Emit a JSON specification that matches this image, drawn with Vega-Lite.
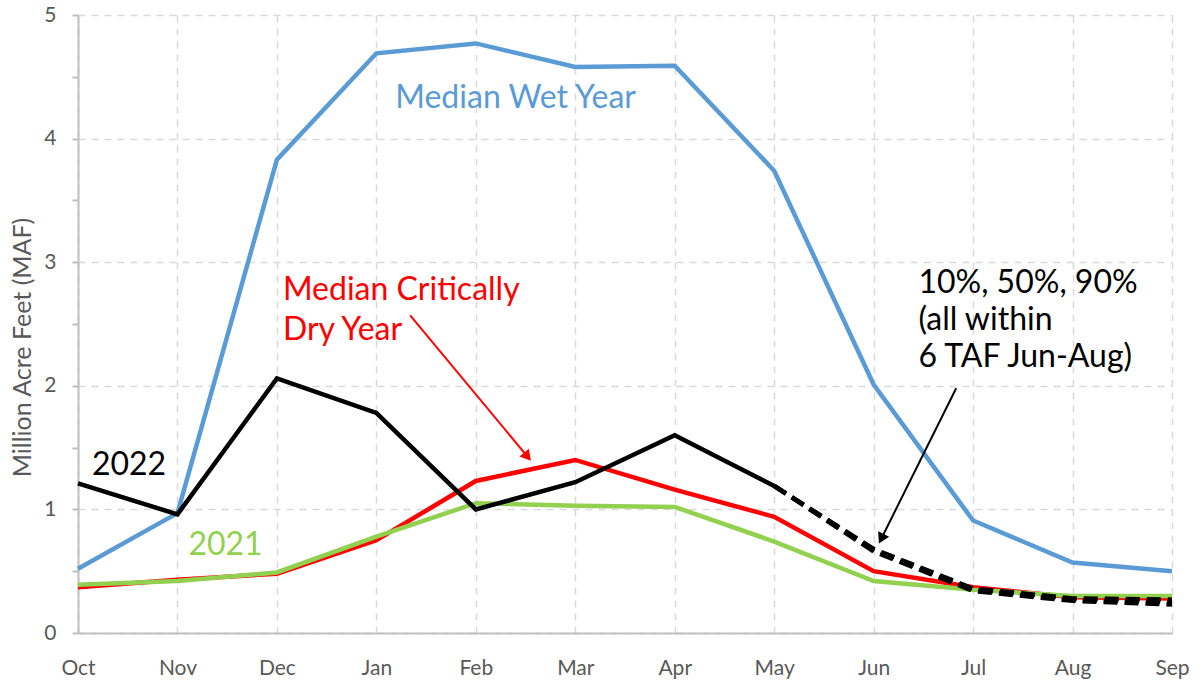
{
  "$schema": "https://vega.github.io/schema/vega-lite/v6.json",
  "width": 1094,
  "height": 618,
  "autosize": {"type": "none"},
  "padding": {"left": 78, "top": 15, "right": 29, "bottom": 54},
  "config": {"view": {"stroke": null}, "font": "Lato"},
  "datasets": {
    "flows": [
      {"m": 0, "v": 0.52, "s": "Wet"}, {"m": 1, "v": 0.97, "s": "Wet"}, {"m": 2, "v": 3.83, "s": "Wet"}, {"m": 3, "v": 4.69, "s": "Wet"},
      {"m": 4, "v": 4.77, "s": "Wet"}, {"m": 5, "v": 4.58, "s": "Wet"}, {"m": 6, "v": 4.59, "s": "Wet"}, {"m": 7, "v": 3.74, "s": "Wet"},
      {"m": 8, "v": 2.01, "s": "Wet"}, {"m": 9, "v": 0.91, "s": "Wet"}, {"m": 10, "v": 0.57, "s": "Wet"}, {"m": 11, "v": 0.50, "s": "Wet"},
      {"m": 0, "v": 0.37, "s": "Dry"}, {"m": 1, "v": 0.43, "s": "Dry"}, {"m": 2, "v": 0.48, "s": "Dry"}, {"m": 3, "v": 0.75, "s": "Dry"},
      {"m": 4, "v": 1.23, "s": "Dry"}, {"m": 5, "v": 1.40, "s": "Dry"}, {"m": 6, "v": 1.16, "s": "Dry"}, {"m": 7, "v": 0.94, "s": "Dry"},
      {"m": 8, "v": 0.50, "s": "Dry"}, {"m": 9, "v": 0.37, "s": "Dry"}, {"m": 10, "v": 0.29, "s": "Dry"}, {"m": 11, "v": 0.28, "s": "Dry"},
      {"m": 0, "v": 0.39, "s": "2021"}, {"m": 1, "v": 0.42, "s": "2021"}, {"m": 2, "v": 0.49, "s": "2021"}, {"m": 3, "v": 0.78, "s": "2021"},
      {"m": 4, "v": 1.05, "s": "2021"}, {"m": 5, "v": 1.03, "s": "2021"}, {"m": 6, "v": 1.02, "s": "2021"}, {"m": 7, "v": 0.74, "s": "2021"},
      {"m": 8, "v": 0.42, "s": "2021"}, {"m": 9, "v": 0.35, "s": "2021"}, {"m": 10, "v": 0.30, "s": "2021"}, {"m": 11, "v": 0.30, "s": "2021"},
      {"m": 0, "v": 1.21, "s": "2022"}, {"m": 1, "v": 0.96, "s": "2022"}, {"m": 2, "v": 2.06, "s": "2022"}, {"m": 3, "v": 1.78, "s": "2022"},
      {"m": 4, "v": 1.00, "s": "2022"}, {"m": 5, "v": 1.22, "s": "2022"}, {"m": 6, "v": 1.60, "s": "2022"}, {"m": 7, "v": 1.19, "s": "2022"},
      {"m": 7, "v": 1.19, "s": "P10"}, {"m": 8, "v": 0.68, "s": "P10"}, {"m": 9, "v": 0.36, "s": "P10"}, {"m": 10, "v": 0.28, "s": "P10"}, {"m": 11, "v": 0.27, "s": "P10"},
      {"m": 7, "v": 1.19, "s": "P50"}, {"m": 8, "v": 0.67, "s": "P50"}, {"m": 9, "v": 0.35, "s": "P50"}, {"m": 10, "v": 0.27, "s": "P50"}, {"m": 11, "v": 0.25, "s": "P50"},
      {"m": 7, "v": 1.19, "s": "P90"}, {"m": 8, "v": 0.66, "s": "P90"}, {"m": 9, "v": 0.34, "s": "P90"}, {"m": 10, "v": 0.26, "s": "P90"}, {"m": 11, "v": 0.23, "s": "P90"}
    ],
    "labels": [
      {"m": 3.19, "v": 4.33, "t": "Median Wet Year", "s": "Wet"},
      {"m": 0.14, "v": 1.36, "t": "2022", "s": "2022"},
      {"m": 1.11, "v": 0.71, "t": "2021", "s": "2021"},
      {"m": 2.06, "v": 2.775, "t": "Median Critically", "s": "Dry"},
      {"m": 2.06, "v": 2.45, "t": "Dry Year", "s": "Dry"},
      {"m": 8.45, "v": 2.83, "t": "10%, 50%, 90%", "s": "2022"},
      {"m": 8.45, "v": 2.53, "t": "(all within", "s": "2022"},
      {"m": 8.45, "v": 2.23, "t": "6 TAF Jun-Aug)", "s": "2022"}
    ],
    "arrowRed": [{"m": 3.34, "v": 2.57, "m2": 4.52, "v2": 1.427}],
    "arrowBlack": [{"m": 8.83, "v": 1.98, "m2": 8.077, "v2": 0.763}]
  },
  "layer": [
    {
      "data": {"name": "flows"},
      "transform": [{"filter": "datum.s === 'Wet'"}],
      "mark": {"type": "line", "strokeWidth": 4.5},
      "encoding": {
        "x": {
          "field": "m", "type": "quantitative",
          "scale": {"domain": [0, 11], "nice": false, "zero": false},
          "axis": {
            "title": null,
            "values": [0, 1, 2, 3, 4, 5, 6, 7, 8, 9, 10, 11],
            "labelExpr": "['Oct','Nov','Dec','Jan','Feb','Mar','Apr','May','Jun','Jul','Aug','Sep'][datum.value]",
            "grid": true, "gridDash": [7, 6], "gridColor": "#D9D9D9", "gridWidth": 1.5,
            "domainColor": "#BFBFBF", "domainWidth": 2,
            "ticks": false,
            "labelFontSize": 21, "labelColor": "#595959", "labelPadding": 24, "labelFlush": false
          }
        },
        "y": {
          "field": "v", "type": "quantitative",
          "scale": {"domain": [0, 5], "nice": false},
          "axis": {
            "title": "Million Acre Feet (MAF)",
            "titleFontSize": 25, "titleFontWeight": "normal", "titleColor": "#595959",
            "titleX": -56, "titleY": 332, "titleBaseline": "middle", "titleAngle": 270,
            "values": [0, 0.5, 1, 1.5, 2, 2.5, 3, 3.5, 4, 4.5, 5],
            "labelExpr": "datum.value % 1 === 0 ? format(datum.value, 'd') : ''",
            "grid": true, "gridDash": [7, 6], "gridColor": "#D9D9D9", "gridWidth": 1.5,
            "gridOpacity": {"condition": {"test": "datum.value % 1 !== 0", "value": 0}, "value": 1},
            "domainColor": "#BFBFBF", "domainWidth": 2,
            "tickColor": "#BFBFBF", "tickWidth": 2, "tickSize": 6,
            "labelFontSize": 21, "labelColor": "#595959", "labelPadding": 16
          }
        },
        "color": {
          "field": "s", "type": "nominal", "legend": null,
          "scale": {
            "domain": ["Wet", "Dry", "2021", "2022", "P10", "P50", "P90"],
            "range": ["#5B9BD5", "#FF0000", "#92D050", "#000000", "#000000", "#000000", "#000000"]
          }
        }
      }
    },
    {
      "data": {"name": "flows"},
      "transform": [{"filter": "datum.s === 'Dry'"}],
      "mark": {"type": "line", "strokeWidth": 4.5},
      "encoding": {
        "x": {"field": "m", "type": "quantitative"},
        "y": {"field": "v", "type": "quantitative"},
        "color": {"field": "s", "type": "nominal", "legend": null}
      }
    },
    {
      "data": {"name": "flows"},
      "transform": [{"filter": "datum.s === '2021'"}],
      "mark": {"type": "line", "strokeWidth": 4.5},
      "encoding": {
        "x": {"field": "m", "type": "quantitative"},
        "y": {"field": "v", "type": "quantitative"},
        "color": {"field": "s", "type": "nominal", "legend": null}
      }
    },
    {
      "data": {"name": "flows"},
      "transform": [{"filter": "datum.s === '2022'"}],
      "mark": {"type": "line", "strokeWidth": 4.5},
      "encoding": {
        "x": {"field": "m", "type": "quantitative"},
        "y": {"field": "v", "type": "quantitative"},
        "color": {"field": "s", "type": "nominal", "legend": null}
      }
    },
    {
      "data": {"name": "flows"},
      "transform": [{"filter": "datum.s === 'P10' || datum.s === 'P50' || datum.s === 'P90'"}],
      "mark": {"type": "line", "strokeWidth": 4.5, "strokeDash": [14, 7]},
      "encoding": {
        "x": {"field": "m", "type": "quantitative"},
        "y": {"field": "v", "type": "quantitative"},
        "color": {"field": "s", "type": "nominal", "legend": null}
      }
    },
    {
      "data": {"name": "arrowRed"},
      "mark": {"type": "rule", "color": "#FF0000", "strokeWidth": 2},
      "encoding": {
        "x": {"field": "m", "type": "quantitative"},
        "y": {"field": "v", "type": "quantitative"},
        "x2": {"field": "m2"},
        "y2": {"field": "v2"}
      }
    },
    {
      "data": {"name": "arrowRed"},
      "mark": {"type": "point", "shape": "triangle-up", "filled": true, "color": "#FF0000", "size": 150, "angle": 140.3, "opacity": 1},
      "encoding": {
        "x": {"field": "m2", "type": "quantitative"},
        "y": {"field": "v2", "type": "quantitative"}
      }
    },
    {
      "data": {"name": "arrowBlack"},
      "mark": {"type": "rule", "color": "#000000", "strokeWidth": 2},
      "encoding": {
        "x": {"field": "m", "type": "quantitative"},
        "y": {"field": "v", "type": "quantitative"},
        "x2": {"field": "m2"},
        "y2": {"field": "v2"}
      }
    },
    {
      "data": {"name": "arrowBlack"},
      "mark": {"type": "point", "shape": "triangle-up", "filled": true, "color": "#000000", "size": 150, "angle": 206.4, "opacity": 1},
      "encoding": {
        "x": {"field": "m2", "type": "quantitative"},
        "y": {"field": "v2", "type": "quantitative"}
      }
    },
    {
      "data": {"name": "labels"},
      "mark": {"type": "text", "align": "left", "baseline": "middle", "fontSize": 32},
      "encoding": {
        "x": {"field": "m", "type": "quantitative"},
        "y": {"field": "v", "type": "quantitative"},
        "text": {"field": "t"},
        "color": {"field": "s", "type": "nominal", "legend": null}
      }
    }
  ]
}
